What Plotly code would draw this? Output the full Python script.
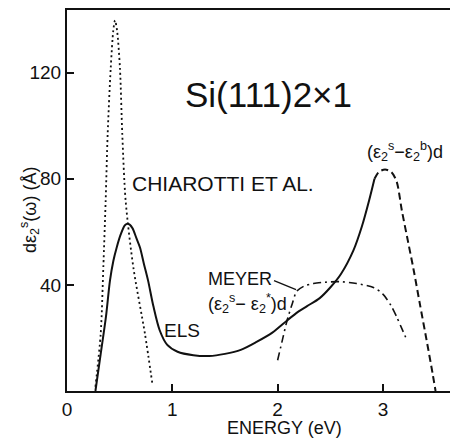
import plotly.graph_objects as go

# ---- data ----
els_x = [0.27, 0.32, 0.37, 0.408, 0.44, 0.472, 0.51, 0.55, 0.58, 0.62, 0.66, 0.693, 0.73, 0.77, 0.82, 0.88, 0.95,
         1.05, 1.20, 1.35, 1.50, 1.65, 1.80, 1.95, 2.09, 2.20, 2.28, 2.40, 2.50, 2.60, 2.72, 2.80, 2.87, 2.92]
els_y = [0, 14, 28, 41.6, 49, 54.1, 59, 62.5, 63, 61.5, 57.5, 54.1, 48, 41.6, 32, 22.9, 17.5,
         14.8, 13.5, 13.2, 14, 15.5, 18.5, 22, 26.6, 30, 32, 35, 39, 44, 53, 62, 72, 80]

bulk_x = [2.92, 2.96, 3.02, 3.08, 3.13, 3.18, 3.24, 3.29, 3.35, 3.42, 3.47, 3.50]
bulk_y = [80, 82.5, 83.5, 82.5, 79, 68, 56, 46, 33, 18, 7, 0]

meyer_x = [2.00, 2.05, 2.09, 2.14, 2.18, 2.25, 2.34, 2.45, 2.59, 2.75, 2.91, 3.00, 3.08, 3.13, 3.18, 3.23]
meyer_y = [11.6, 20, 26.6, 33, 37.5, 39.5, 40.5, 41, 41.2, 40.5, 39, 36.5, 32, 28, 23.5, 19]

chiar_x = [0.27, 0.32, 0.345, 0.367, 0.386, 0.415, 0.44, 0.456, 0.475, 0.503, 0.525, 0.557, 0.63, 0.74, 0.81]
chiar_y = [1.6, 21.6, 46.6, 71.6, 96.7, 121.6, 136, 139.7, 136, 121.6, 96.7, 71.6, 46.6, 21.6, 2.9]

x_tickvals = [0, 1, 2, 3]
x_ticktext = ["0", "1", "2", "3"]
y_tickvals = [40, 80, 120]
y_ticktext = ["40", "80", "120"]

X_RANGE = [0, 3.713]
Y_RANGE = [0, 143.6]

INK = "#111111"
FONT = "Liberation Sans, Arial, sans-serif"

fig = go.Figure()
fig.add_trace(go.Scatter(x=chiar_x, y=chiar_y, mode="lines",
                         line=dict(color=INK, width=1.8, dash="2px,3px", shape="spline", smoothing=0.8)))
fig.add_trace(go.Scatter(x=els_x, y=els_y, mode="lines",
                         line=dict(color=INK, width=2, shape="spline", smoothing=0.8)))
fig.add_trace(go.Scatter(x=bulk_x, y=bulk_y, mode="lines",
                         line=dict(color=INK, width=2, dash="7px,4px", shape="spline", smoothing=0.8)))
fig.add_trace(go.Scatter(x=meyer_x, y=meyer_y, mode="lines",
                         line=dict(color=INK, width=1.6, dash="8px,4px,2px,4px", shape="spline", smoothing=0.8)))

# leader line from "MEYER" label to its curve
leader = dict(x0=1.966, y0=41.6, x1=2.175, y1=38.2)
fig.add_shape(type="line", xref="x", yref="y", line=dict(color=INK, width=1.3), **leader)

def label(text, x, y, size, family=FONT):
    fig.add_annotation(x=x, y=y, xref="x", yref="y", text=text, showarrow=False,
                       xanchor="left", yanchor="middle",
                       font=dict(family=family, size=size, color=INK))

label("Si(111)2×1", 1.10, 111.7, 35)
label("CHIAROTTI ET AL.", 0.60, 78.1, 21)
label("MEYER", 1.32, 42.4, 18)
label("(ε<sub>2</sub><sup>s</sup>− ε<sub>2</sub><sup>*</sup>)d", 1.32, 33.0, 18)
label("ELS", 0.90, 22.9, 19)
label("(ε<sub>2</sub><sup>s</sup>−ε<sub>2</sub><sup>b</sup>)d", 2.83, 90.4, 18)

fig.add_annotation(x=0.555, y=-0.098, xref="paper", yref="paper", text="ENERGY (eV)",
                   showarrow=False, xanchor="center", yanchor="middle",
                   font=dict(family=FONT, size=18, color=INK))
fig.add_annotation(x=-0.0972, y=0.475, xref="paper", yref="paper",
                   text="dε<sub>2</sub><sup>s</sup>(ω) (Å)", textangle=-90,
                   showarrow=False, xanchor="center", yanchor="middle",
                   font=dict(family=FONT, size=18, color=INK))

# the page body adds an 8px margin, so the figure is 8px smaller and its margins 8px less
fig.update_layout(
    width=450, height=433,
    margin=dict(l=59, r=0, t=0, b=50, pad=0),
    paper_bgcolor="white", plot_bgcolor="white",
    showlegend=False,
    font=dict(family=FONT, color=INK),
)
fig.update_xaxes(range=X_RANGE, tickvals=x_tickvals, ticktext=x_ticktext,
                 ticks="inside", ticklen=7, tickwidth=1.5, tickcolor=INK,
                 showline=True, linecolor=INK, linewidth=2, mirror=True,
                 showgrid=False, zeroline=False,
                 tickfont=dict(family=FONT, size=19, color=INK))
fig.update_yaxes(range=Y_RANGE, tickvals=y_tickvals, ticktext=y_ticktext,
                 ticks="inside", ticklen=7, tickwidth=1.5, tickcolor=INK,
                 showline=True, linecolor=INK, linewidth=2, mirror=False,
                 showgrid=False, zeroline=False,
                 tickfont=dict(family=FONT, size=19, color=INK))

fig.write_html("out.html")
